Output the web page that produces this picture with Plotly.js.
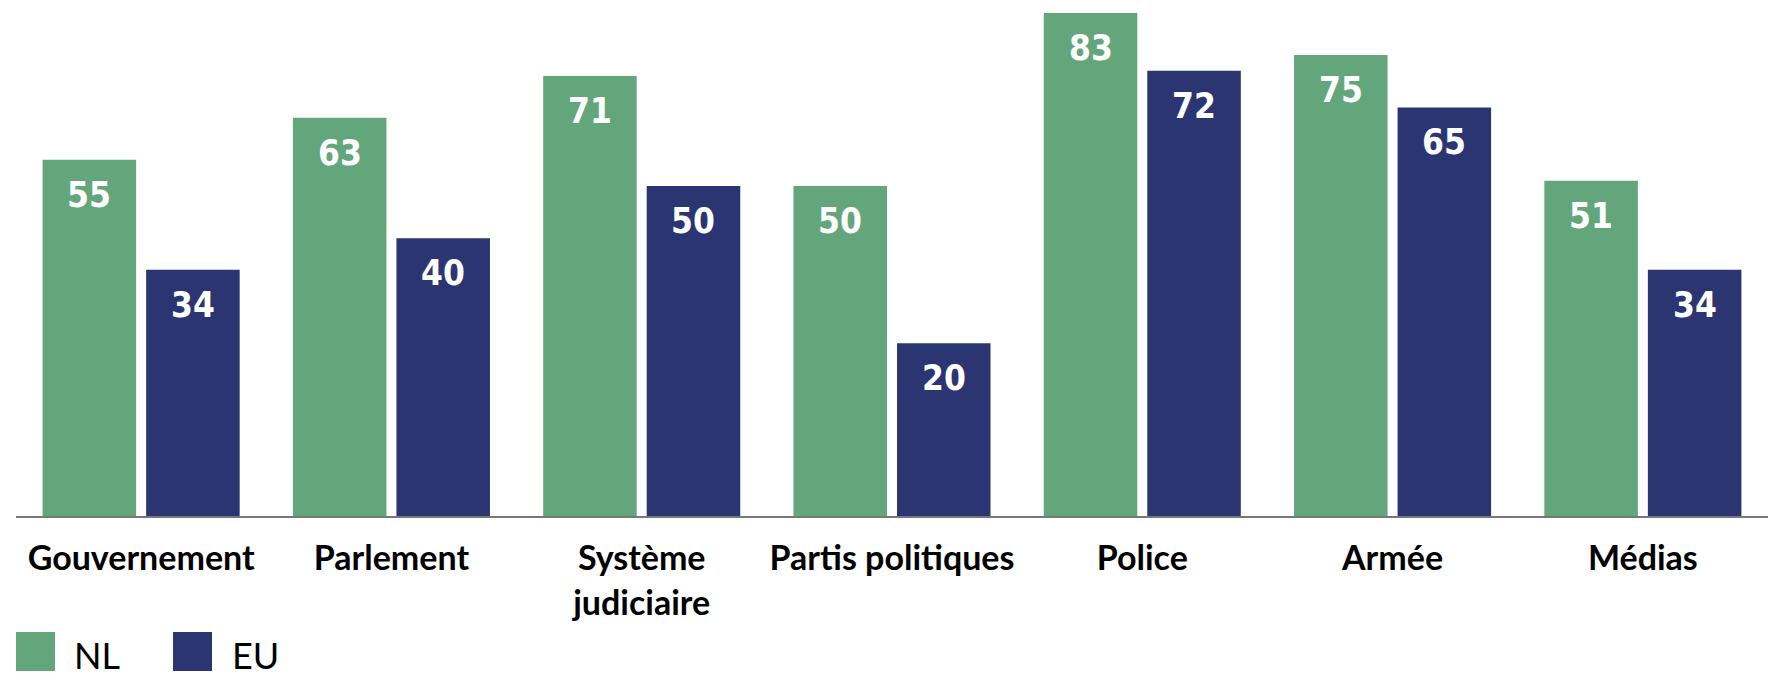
<!DOCTYPE html>
<html>
<head>
<meta charset="utf-8">
<script src="https://cdn.plot.ly/plotly-3.0.1.min.js"></script>
<style>html,body{margin:0;padding:0;background:#fff}#chart{width:1788px;height:692px}</style>
</head>
<body>
<div id="chart"></div>
<script>
// ---- data ----
const categories = ["Gouvernement", "Parlement", "Système<br>judiciaire", "Partis politiques", "Police", "Armée", "Médias"];
const seriesNames = ["NL", "EU"];
const valuesNL = [55, 63, 71, 50, 83, 75, 51];
const valuesEU = [34, 40, 50, 20, 72, 65, 34];

// ---- styling / layout constants ----
const COLORS = ["#64a67c", "#2a3571"];
const Y0 = -13;          // value at which the baseline sits
const YMAX = 85.5;
const W = 1788, H = 692;
const M = {l: 16, r: 20, t: 0, b: 176};
const PW = W - M.l - M.r, PH = H - M.t - M.b;
const BAR_OFFSET_PX = 51.75;

const cats = categories.map((c, i) => i);
const series = [valuesNL, valuesEU];

const traces = series.map((vals, k) => ({
  type: "bar",
  name: seriesNames[k],
  x: cats,
  y: vals.map(v => v - Y0),
  base: Y0,
  marker: {color: COLORS[k], line: {width: 0}},
  hoverinfo: "skip",
  showlegend: false
}));

const annotations = [];
series.forEach((vals, k) => {
  vals.forEach((v, i) => {
    annotations.push({
      x: i, y: v, xref: "x", yref: "y",
      xshift: k === 0 ? -BAR_OFFSET_PX : BAR_OFFSET_PX,
      yshift: -13,
      yanchor: "top", xanchor: "center",
      text: String(v), showarrow: false,
      font: {family: "Liberation Sans Narrow, DejaVu Sans Condensed, Arial Narrow, sans-serif", size: 35, color: "#ffffff", weight: "bold"}
    });
  });
});

// legend built from series names (px helpers -> paper coords)
const px2x = p => (p - M.l) / PW;
const py2y = p => (M.t + PH - p) / PH;
const legendItems = [{sq: 16, tx: 72}, {sq: 173, tx: 230}];
const shapes = [];
legendItems.forEach((it, k) => {
  shapes.push({
    type: "rect", xref: "paper", yref: "paper",
    x0: px2x(it.sq), x1: px2x(it.sq + 39),
    y0: py2y(671), y1: py2y(632),
    fillcolor: COLORS[k], line: {width: 0}
  });
  annotations.push({
    xref: "paper", yref: "paper",
    x: px2x(it.tx), y: py2y(655), xanchor: "left", yanchor: "middle",
    text: seriesNames[k], showarrow: false,
    font: {family: "Lato, sans-serif", size: 36, color: "#000000"}
  });
});

const layout = {
  width: W, height: H,
  margin: M,
  paper_bgcolor: "#ffffff", plot_bgcolor: "#ffffff",
  barmode: "group",
  bargap: 0.1727,
  bargroupgap: 0.0966,
  showlegend: false,
  xaxis: {
    type: "linear",
    range: [-0.5, categories.length - 0.5],
    tickmode: "array",
    tickvals: cats,
    ticktext: categories,
    ticks: "",
    showgrid: false, zeroline: false,
    showline: true, linecolor: "#777777", linewidth: 1.5,
    tickfont: {family: "Lato, sans-serif", size: 34, color: "#000000", weight: "bold"},
    ticklabelstandoff: 12,
    fixedrange: true
  },
  yaxis: {
    range: [Y0, YMAX],
    showgrid: false, zeroline: false, showline: false,
    showticklabels: false, ticks: "",
    fixedrange: true
  },
  annotations: annotations,
  shapes: shapes
};

Plotly.newPlot("chart", traces, layout, {displayModeBar: false, staticPlot: true});
</script>
</body>
</html>
